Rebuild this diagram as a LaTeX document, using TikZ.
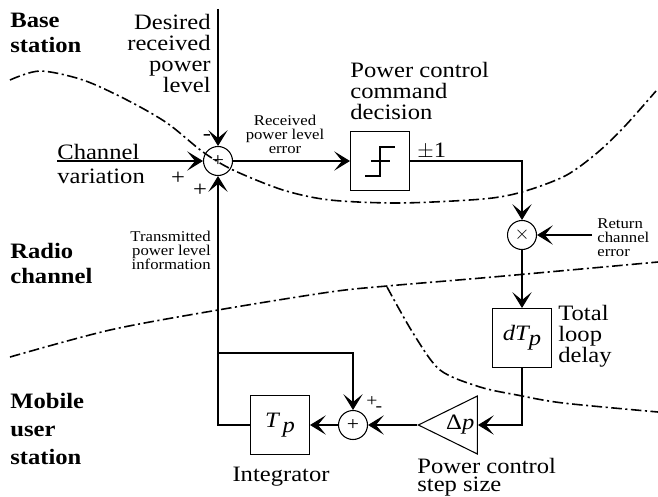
\documentclass[tikz,border=0pt]{standalone}
\usepackage{fontspec}
\setmainfont[FakeStretch=1.12]{Liberation Serif}
\usetikzlibrary{arrows.meta,shapes.geometric}

\begin{document}
\begin{tikzpicture}[
  blk/.style={rectangle,draw,line width=0.6pt,minimum size=1.18cm,inner sep=0pt},
  sumn/.style={circle,draw,line width=0.6pt,minimum size=0.58cm,inner sep=0pt,
               font=\fontsize{11}{11}\selectfont},
  amp/.style={isosceles triangle,shape border rotate=180,isosceles triangle stretches,
              draw,line width=0.6pt,minimum height=1.16cm,minimum width=1.16cm,
              inner sep=1pt,anchor=apex,font=\fontsize{12.5}{12}\selectfont},
  lbl/.style={inner sep=0pt,font=\fontsize{12.5}{12}\selectfont},
  sml/.style={inner sep=0pt,font=\fontsize{8.5}{8}\selectfont},
  zone/.style={inner sep=0pt,align=left,font=\fontsize{12.5}{14}\selectfont\bfseries},
  arr/.style={-{Stealth[length=9pt,width=11pt,inset=4.5pt]},line width=0.6pt},
  bnd/.style={line width=0.9pt,dash pattern=on 6pt off 2pt on 1.2pt off 2pt}
]
  \useasboundingbox (0,0) rectangle (13.16,9.92);

  % zone boundaries
  \draw[bnd] plot[smooth] coordinates {(0.2,8.32) (0.8,8.5) (1.66,8.32) (2.54,7.92)
      (3.34,7.46) (4.06,6.88) (4.66,6.52) (5.66,6.12) (6.6,5.92) (8.0,5.86)
      (9.66,5.94) (10.44,6.08) (11.3,6.4) (11.94,6.86) (12.5,7.4) (13.12,8.1)};
  \draw[bnd] plot[smooth] coordinates {(0.2,2.78) (2.2,3.32) (4.36,3.72) (6.6,4.08)
      (7.74,4.2) (9.86,4.38) (13.16,4.68)};
  \draw[bnd] plot[smooth] coordinates {(7.74,4.18) (8.26,3.26) (8.8,2.52) (9.6,2.18)
      (10.34,2.02) (11.26,1.86) (13.16,1.68)};

  \node[zone,anchor=north west] (bs) at (0.2,9.66) {Base\\station};
  \node[zone,anchor=north west] (rc) at (0.2,5.06) {Radio\\channel};
  \node[zone,anchor=north west,font=\fontsize{12.5}{16}\selectfont\bfseries]
      (ms) at (0.2,2.06) {Mobile\\user\\station};

  % blocks
  \node[sumn] (s1) at (4.36,6.70) {+};
  \node[blk] (dec) at (7.60,6.70) {};
  \node[sumn] (mul) at (10.44,5.22) {$\times$};
  \node[blk,font=\fontsize{12.5}{12}\selectfont] (dly) at (10.44,3.16)
      {\textit{dT\raisebox{-0.5ex}{p}}};
  \node[amp] (dp) at (8.34,1.42) {Δ\textit{p}};
  \node[sumn] (s2) at (7.06,1.42) {+};
  \node[blk,font=\fontsize{12.5}{12}\selectfont] (int) at (5.60,1.42)
      {\textit{T\,\raisebox{-0.5ex}{p}}};

  \draw[line width=0.6pt] ([shift={(-0.3,-0.3)}]dec.center) -- ++(0.3,0)
      |- ([shift={(0.3,0.28)}]dec.center);
  \draw[line width=0.6pt] ([xshift=-0.18cm]dec.center) -- ([xshift=0.2cm]dec.center);

  % texts
  \node[lbl,align=right,anchor=north east] (des) at (4.22,9.64)
      {Desired\\received\\power\\level};
  \node[lbl,anchor=base west] (chv) at (1.14,6.74) {Channel};
  \node[lbl,anchor=base west] (var) at (1.14,6.26) {variation};
  \node[lbl] (pc) at (3.56,6.36) {+};
  \node[lbl] (pb) at (4.00,6.12) {+};
  \node[lbl] (mt) at (4.14,7.16) {-};
  \node[sml,align=center,anchor=north] (rpe) at (5.70,7.62)
      {Received\\power level\\error};
  \node[lbl,align=left,anchor=north west] (pcd) at (7.00,8.68)
      {Power control\\command\\decision};
  \node[lbl,anchor=base west] (pm) at (8.34,6.78) {$\pm$1};
  \node[sml,align=left,anchor=north west] (rce) at (11.94,5.56)
      {Return\\channel\\error};
  \node[lbl,align=left,anchor=north west] (tld) at (11.16,3.82)
      {Total\\loop\\delay};
  \node[sml,align=right,anchor=north east] (tpi) at (4.22,5.30)
      {Transmitted\\power level\\information};
  \node[lbl,anchor=north] (itg) at (5.62,0.58) {Integrator};
  \node[lbl,align=left,anchor=north west,font=\fontsize{12.5}{10}\selectfont]
      (pcs) at (8.34,0.76) {Power control\\step size};
  \node[sml,font=\fontsize{10}{10}\selectfont] (p2) at (7.44,1.88) {+};
  \node[sml,font=\fontsize{10}{10}\selectfont] (m2) at (7.58,1.74) {-};

  % connectors
  \coordinate (ref) at (4.36,9.74);
  \coordinate (chin) at (1.14,6.70);
  \coordinate (ret) at (11.84,5.22);
  \coordinate (br) at (4.36,2.86);
  \draw[arr] (ref) -- (s1);
  \draw[arr] (chin) -- (s1);
  \draw[arr] (s1) -- (dec);
  \draw[arr] (dec) -| (mul);
  \draw[arr] (ret) -- (mul);
  \draw[arr] (mul) -- (dly);
  \draw[arr] (dly) |- (dp.east);
  \draw[arr] (dp.apex) -- (s2);
  \draw[arr] (br) -| (s2);
  \draw[arr] (s2) -- (int);
  \draw[arr] (int) -| (s1);
\end{tikzpicture}
\end{document}
